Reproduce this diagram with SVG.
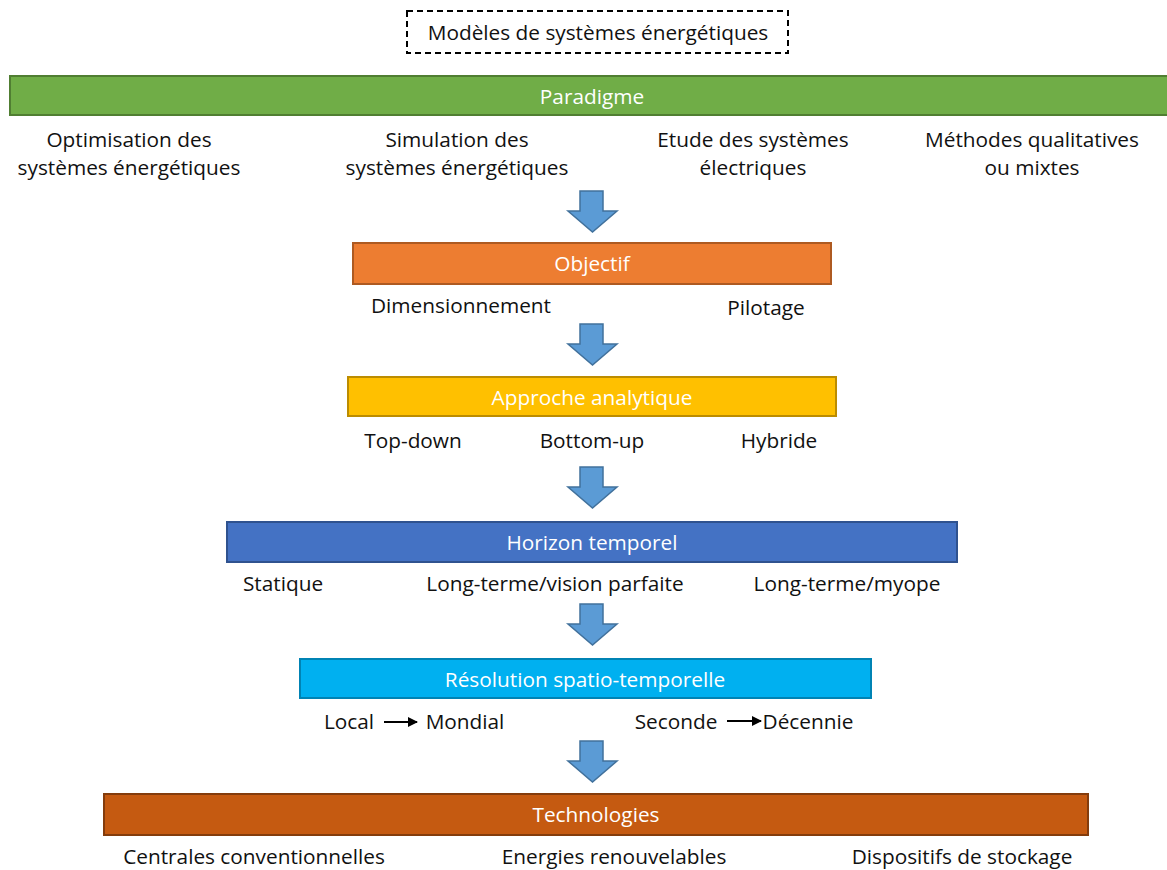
<svg xmlns="http://www.w3.org/2000/svg" width="1167" height="870" viewBox="0 0 1167 870">
<defs>
<style>
text{font-family:"Open Sans","Liberation Sans",sans-serif;font-size:20.8px;fill:#111;text-anchor:middle}
.w{fill:#fff}
.bar{stroke-width:2}
.ba{fill:#5B9BD5;stroke:#41719C;stroke-width:1.5;stroke-linejoin:miter}
.sm{stroke:#000;stroke-width:2;fill:none}
</style>
<marker id="ah" viewBox="0 0 10 10" refX="9" refY="5" markerWidth="5" markerHeight="5" orient="auto" markerUnits="strokeWidth">
<path d="M0,0 L10,5 L0,10 Z" fill="#000"/>
</marker>
<path id="blk" d="M-12,0 H11 V20 H25 L0.5,41 L-24,20 H-12 Z"/>
</defs>
<rect width="1167" height="870" fill="#fff"/>

<g id="title">
<rect x="407" y="11" width="381" height="42" fill="none" stroke="#000" stroke-width="2" stroke-dasharray="6,4"/>
<text x="598" y="40">Modèles de systèmes énergétiques</text>
</g>

<g id="paradigme">
<rect class="bar" x="10" y="76" width="1158" height="39" fill="#70AD47" stroke="#507E32"/>
<text class="w" x="592" y="104">Paradigme</text>
<text x="129" y="147">Optimisation des</text>
<text x="129" y="175">systèmes énergétiques</text>
<text x="457" y="147">Simulation des</text>
<text x="457" y="175">systèmes énergétiques</text>
<text x="753" y="147">Etude des systèmes</text>
<text x="753" y="175">électriques</text>
<text x="1032" y="147">Méthodes qualitatives</text>
<text x="1032" y="175">ou mixtes</text>
</g>

<g id="objectif">
<rect class="bar" x="353" y="243" width="478" height="41" fill="#ED7D31" stroke="#AE5A21"/>
<text class="w" x="592" y="271">Objectif</text>
<text x="461" y="313">Dimensionnement</text>
<text x="766" y="315">Pilotage</text>
</g>

<g id="approche">
<rect class="bar" x="348" y="377" width="488" height="39" fill="#FFC000" stroke="#BC8C00"/>
<text class="w" x="592" y="405">Approche analytique</text>
<text x="413" y="448">Top-down</text>
<text x="592" y="448">Bottom-up</text>
<text x="779" y="448">Hybride</text>
</g>

<g id="horizon">
<rect class="bar" x="227" y="522" width="730" height="40" fill="#4472C4" stroke="#2F528F"/>
<text class="w" x="592" y="550">Horizon temporel</text>
<text x="283" y="591">Statique</text>
<text x="555" y="591">Long-terme/vision parfaite</text>
<text x="847" y="591">Long-terme/myope</text>
</g>

<g id="resolution">
<rect class="bar" x="300" y="659" width="571" height="39" fill="#00B0F0" stroke="#0083B4"/>
<text class="w" x="585" y="687">Résolution spatio-temporelle</text>
<text x="349" y="729">Local</text>
<text x="465" y="729">Mondial</text>
<text x="676" y="729">Seconde</text>
<text x="808" y="729">Décennie</text>
</g>

<g id="technologies">
<rect class="bar" x="104" y="794" width="984" height="41" fill="#C55A11" stroke="#843C0C"/>
<text class="w" x="596" y="822">Technologies</text>
<text x="254" y="864">Centrales conventionnelles</text>
<text x="614" y="864">Energies renouvelables</text>
<text x="962" y="864">Dispositifs de stockage</text>
</g>

<g id="connectors">
<use href="#blk" class="ba" x="592" y="191"/>
<use href="#blk" class="ba" x="592" y="324"/>
<use href="#blk" class="ba" x="592" y="467"/>
<use href="#blk" class="ba" x="592" y="604"/>
<use href="#blk" class="ba" x="592" y="741"/>
<line class="sm" x1="384" y1="722" x2="417" y2="722" marker-end="url(#ah)"/>
<line class="sm" x1="727" y1="721" x2="761" y2="721" marker-end="url(#ah)"/>
</g>
</svg>
